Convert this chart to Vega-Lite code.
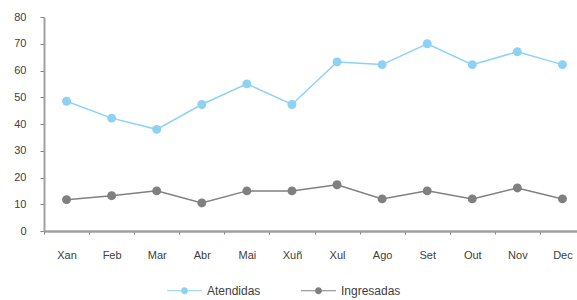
{
  "$schema": "https://vega.github.io/schema/vega-lite/v6.json",
  "autosize": {"type": "none"},
  "width": 533,
  "height": 214,
  "padding": {"left": 44, "top": 17, "right": 0, "bottom": 69},
  "background": "white",
  "config": {
    "view": {"stroke": null},
    "font": "Liberation Sans",
    "axis": {"grid": false, "domainColor": "#a0a0a0", "tickColor": "#808080", "labelColor": "#404040", "labelFont": "Liberation Sans", "labelFontSize": 11}
  },
  "data": {
    "values": [
      {"mes": "Xan", "serie": "Atendidas", "valor": 48.5},
      {"mes": "Feb", "serie": "Atendidas", "valor": 42.2},
      {"mes": "Mar", "serie": "Atendidas", "valor": 38},
      {"mes": "Abr", "serie": "Atendidas", "valor": 47.3},
      {"mes": "Mai", "serie": "Atendidas", "valor": 55},
      {"mes": "Xuñ", "serie": "Atendidas", "valor": 47.3},
      {"mes": "Xul", "serie": "Atendidas", "valor": 63.2},
      {"mes": "Ago", "serie": "Atendidas", "valor": 62.2},
      {"mes": "Set", "serie": "Atendidas", "valor": 70},
      {"mes": "Out", "serie": "Atendidas", "valor": 62.2},
      {"mes": "Nov", "serie": "Atendidas", "valor": 67},
      {"mes": "Dec", "serie": "Atendidas", "valor": 62.2},
      {"mes": "Xan", "serie": "Ingresadas", "valor": 11.7},
      {"mes": "Feb", "serie": "Ingresadas", "valor": 13.2},
      {"mes": "Mar", "serie": "Ingresadas", "valor": 15},
      {"mes": "Abr", "serie": "Ingresadas", "valor": 10.5},
      {"mes": "Mai", "serie": "Ingresadas", "valor": 15},
      {"mes": "Xuñ", "serie": "Ingresadas", "valor": 15},
      {"mes": "Xul", "serie": "Ingresadas", "valor": 17.3},
      {"mes": "Ago", "serie": "Ingresadas", "valor": 12},
      {"mes": "Set", "serie": "Ingresadas", "valor": 15},
      {"mes": "Out", "serie": "Ingresadas", "valor": 12},
      {"mes": "Nov", "serie": "Ingresadas", "valor": 16.1},
      {"mes": "Dec", "serie": "Ingresadas", "valor": 12}
    ]
  },
  "encoding": {
    "x": {
      "field": "mes", "type": "nominal", "sort": null, "title": null,
      "scale": {"type": "band", "range": [0, 541], "paddingInner": 0, "paddingOuter": 0},
      "axis": {"labelAngle": 0, "tickSize": 3, "labelPadding": 15, "domainWidth": 2.5, "tickWidth": 1, "tickBand": "extent"}
    },
    "y": {
      "field": "valor", "type": "quantitative", "title": null,
      "scale": {"domain": [0, 80], "nice": false, "zero": true},
      "axis": {"values": [0, 10, 20, 30, 40, 50, 60, 70, 80], "tickSize": 4, "labelPadding": 14, "domainWidth": 2, "labelBaseline": "middle"}
    },
    "color": {
      "field": "serie", "type": "nominal", "title": null,
      "scale": {"domain": ["Atendidas", "Ingresadas"], "range": ["#8dd2f3", "#808080"]},
      "legend": {
        "orient": "none", "direction": "horizontal", "legendX": 123, "legendY": 256,
        "symbolType": "M-1,-0.025H1V0.025H-1Z M0.2,0A0.2,0.2 0 1,1 -0.2,0A0.2,0.2 0 1,1 0.2,0Z",
        "symbolSize": 1225, "symbolStrokeWidth": 0, "symbolOpacity": 1,
        "labelFont": "Liberation Sans", "labelFontSize": 12, "labelColor": "#404040",
        "labelOffset": 5, "columnPadding": 40, "padding": 0
      }
    }
  },
  "layer": [
    {"mark": {"type": "line", "strokeWidth": 1.5}},
    {"mark": {"type": "point", "filled": true, "size": 80, "opacity": 1}}
  ]
}
